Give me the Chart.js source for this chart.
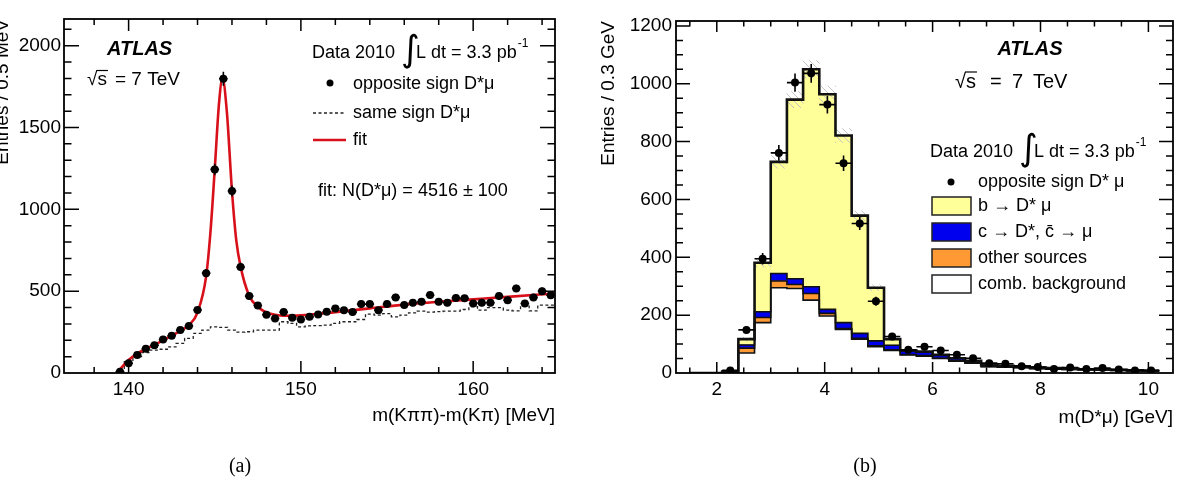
<!DOCTYPE html>
<html>
<head>
<meta charset="utf-8">
<script src="https://cdn.jsdelivr.net/npm/chart.js@4.4.1/dist/chart.umd.min.js"></script>
<style>
  html, body { margin: 0; padding: 0; background: #fff; }
  #wrap { position: relative; width: 1184px; height: 496px; }
  #wrap canvas { position: absolute; left: 0; top: 0; }
</style>
</head>
<body>
<div id="wrap">
  <canvas id="chartA" width="1184" height="496"></canvas>
  <canvas id="chartB" width="1184" height="496"></canvas>
</div>
<script>
// ---- panel (a): m(Kpipi)-m(Kpi), 0.5 MeV bins starting at 139.5 ----
const dmStart = 139.5;
const dmBin = 0.5;
const oppSign = [8, 60, 110, 148, 170, 205, 228, 262, 287, 385,
  610, 1244, 1798, 1112, 648, 470, 412, 356, 333, 372,
  338, 327, 343, 358, 374, 394, 384, 372, 421, 421,
  384, 421, 462, 415, 429, 435, 476, 435, 429, 459,
  456, 425, 429, 429, 470, 445, 517, 425, 462, 500, 475];
const sameSign = [10, 69, 100, 124, 140, 145, 160, 181, 212, 242,
  262, 282, 279, 262, 250, 252, 262, 262, 262, 313,
  303, 282, 288, 290, 293, 303, 313, 313, 327, 360,
  354, 363, 343, 354, 367, 378, 372, 375, 378, 378,
  388, 405, 384, 400, 400, 384, 380, 409, 380, 415, 415];
const fitX = [139.3, 139.6, 140, 140.5, 141, 141.5, 142, 142.5, 143, 143.5, 144, 144.5,
  144.75, 145, 145.25, 145.45, 145.7, 146, 146.25, 146.5, 147, 147.5, 148, 148.5, 149,
  150, 152, 154, 156, 158, 160, 162, 164.75];
const fitY = [0, 35, 80, 118, 148, 172, 200, 228, 258, 292, 370, 590,
  860, 1244, 1650, 1800, 1600, 1112, 810, 650, 472, 405, 370, 356, 350,
  352, 372, 395, 418, 435, 450, 465, 486];
const xLabelsA = [140, 150, 160];
const yLabelsA = [0, 500, 1000, 1500, 2000];

// ---- panel (b): m(D*mu), 0.3 GeV bins starting at 1.5 GeV ----
const mLow = 1.5;
const mBin = 0.3;
const combBkg = [0, 0, 4, 69, 174, 295, 292, 252, 197, 151, 117, 91, 78, 62, 58, 50, 41, 34, 22, 20, 18, 15, 14, 12, 11, 10, 9, 8, 7];
const otherSrc = [0, 0, 1, 17, 18, 23, 14, 23, 9, 3, 3, 3, 2, 2, 2, 1, 1, 1, 1, 1, 1, 1, 0, 0, 0, 0, 0, 0, 0];
const charmSrc = [0, 0, 0, 11, 20, 26, 20, 23, 14, 20, 17, 17, 16, 12, 12, 10, 8, 6, 4, 3, 3, 2, 2, 2, 1, 1, 1, 1, 1];
const beautySrc = [0, 0, 0, 20, 169, 386, 619, 752, 744, 647, 407, 184, 21, 2, 2, 2, 1, 1, 1, 1, 1, 1, 1, 1, 1, 1, 1, 0, 0];
const dataB = [null, null, 9, 149, 395, 761, 1004, 1036, 928, 725, 517, 248, 126, 80, 91, 78, 63, 51, 34, 32, 23, 21, 14, 19, 14, 17, 12, 9, 9];
const sysBand = [0, 0, 0, 6, 14, 22, 28, 30, 28, 24, 16, 10, 5, 3, 3, 2, 2, 1, 1, 1, 1, 1, 0, 0, 0, 0, 0, 0, 0];
const xLabelsB = [2, 4, 6, 8, 10];
const yLabelsB = [0, 200, 400, 600, 800, 1000, 1200];

const FONT = '"Liberation Sans", Arial, Helvetica, sans-serif';
Chart.defaults.font.family = FONT;
Chart.defaults.color = '#000';

function stepLine(lo, width, vals) {
  const pts = [];
  vals.forEach((v, i) => {
    pts.push({ x: lo + i * width, y: v }, { x: lo + (i + 1) * width, y: v });
  });
  return pts;
}

function near(v, list) {
  return list.some(l => Math.abs(l - v) < 1e-6);
}

function put(ctx, s, x, y, size, o = {}) {
  ctx.font = `${o.style || 'normal'} ${o.weight || 'normal'} ${size}px ${o.family || FONT}`;
  ctx.textAlign = o.align || 'left';
  ctx.textBaseline = o.base || 'middle';
  ctx.fillStyle = '#000';
  ctx.fillText(s, x, y);
  return ctx.measureText(s).width;
}

function sqrtS(ctx, x, y, size) {
  const w1 = put(ctx, '√', x, y, size);
  const w2 = put(ctx, 's', x + w1, y, size);
  ctx.strokeStyle = '#000';
  ctx.lineWidth = 1.2;
  ctx.beginPath();
  ctx.moveTo(x + w1 - 1, y - size * 0.5);
  ctx.lineTo(x + w1 + w2 + 1, y - size * 0.5);
  ctx.stroke();
}

function lumi(ctx, x, y) {
  let w = put(ctx, 'Data 2010', x, y, 18);
  const ix = x + w + 6;
  put(ctx, '∫', ix, y - 1, 36, { family: '"DejaVu Sans"' });
  w = put(ctx, 'L dt = 3.3 pb', ix + 15, y, 18);
  put(ctx, '-1', ix + 16 + w, y - 9, 12);
}

// ROOT style frame: box with inward ticks on all four sides
const rootFrame = {
  id: 'rootFrame',
  afterDraw(chart, args, o) {
    const { ctx, chartArea: a } = chart;
    const x = chart.scales.x, y = chart.scales.y;
    ctx.save();
    ctx.strokeStyle = '#000';
    ctx.lineWidth = 1.5;
    ctx.beginPath();
    x.ticks.forEach(t => {
      const px = x.getPixelForValue(t.value);
      if (px < a.left + 1 || px > a.right - 1) return;
      const len = Math.abs(t.value / o.majX - Math.round(t.value / o.majX)) < 1e-6 ? o.xMaj : o.xMin;
      ctx.moveTo(px, a.bottom); ctx.lineTo(px, a.bottom - len);
      ctx.moveTo(px, a.top); ctx.lineTo(px, a.top + len);
    });
    y.ticks.forEach(t => {
      const py = y.getPixelForValue(t.value);
      if (py < a.top + 1 || py > a.bottom - 1) return;
      const len = Math.abs(t.value / o.majY - Math.round(t.value / o.majY)) < 1e-6 ? o.yMaj : o.yMin;
      ctx.moveTo(a.left, py); ctx.lineTo(a.left + len, py);
      ctx.moveTo(a.right, py); ctx.lineTo(a.right - len, py);
    });
    ctx.stroke();
    ctx.lineWidth = 1.8;
    ctx.strokeRect(a.left, a.top, a.right - a.left, a.bottom - a.top);
    ctx.restore();
  }
};

// poisson error bars plus half-bin horizontal bars
const errorBars = {
  id: 'errorBars',
  beforeDatasetDraw(chart, args) {
    const ds = chart.data.datasets[args.index];
    if (!ds.errX) return;
    const { ctx } = chart;
    const xs = chart.scales.x, ys = chart.scales[ds.yAxisID || 'y'];
    ctx.save();
    ctx.strokeStyle = '#000';
    ctx.lineWidth = 1.6;
    ctx.beginPath();
    ds.data.forEach(p => {
      const e = Math.sqrt(p.y);
      const px = xs.getPixelForValue(p.x), py = ys.getPixelForValue(p.y);
      ctx.moveTo(xs.getPixelForValue(p.x - ds.errX), py);
      ctx.lineTo(xs.getPixelForValue(p.x + ds.errX), py);
      ctx.moveTo(px, ys.getPixelForValue(Math.max(p.y - e, 0)));
      ctx.lineTo(px, ys.getPixelForValue(p.y + e));
    });
    ctx.stroke();
    ctx.restore();
  }
};

const notesA = {
  id: 'notesA',
  afterDraw(chart) {
    const ctx = chart.ctx;
    ctx.save();
    put(ctx, 'ATLAS', 107, 49, 20, { style: 'italic', weight: 'bold' });
    sqrtS(ctx, 87, 80, 19);
    put(ctx, '= 7 TeV', 115, 80, 19);
    lumi(ctx, 312, 53);
    ctx.beginPath(); ctx.arc(330, 83, 3.5, 0, Math.PI * 2); ctx.fillStyle = '#000'; ctx.fill();
    put(ctx, 'opposite sign D*μ', 353, 84, 18);
    ctx.strokeStyle = '#222'; ctx.lineWidth = 1.3; ctx.setLineDash([3, 2.5]);
    ctx.beginPath(); ctx.moveTo(313, 113); ctx.lineTo(344, 113); ctx.stroke();
    ctx.setLineDash([]);
    put(ctx, 'same sign D*μ', 353, 113, 18);
    ctx.strokeStyle = '#d8101a'; ctx.lineWidth = 2.5;
    ctx.beginPath(); ctx.moveTo(313, 140); ctx.lineTo(346, 140); ctx.stroke();
    put(ctx, 'fit', 353, 140, 18);
    put(ctx, 'fit: N(D*μ) = 4516 ± 100', 318, 191, 18);
    put(ctx, 'm(Kππ)-m(Kπ) [MeV]', 555, 416, 19, { align: 'right' });
    ctx.translate(8, 19); ctx.rotate(-Math.PI / 2);
    put(ctx, 'Entries / 0.5 MeV', 0, 0, 19, { align: 'right', base: 'alphabetic' });
    ctx.setTransform(1, 0, 0, 1, 0, 0);
    put(ctx, '(a)', 240, 467, 20, { align: 'center', family: '"Liberation Serif", serif' });
    ctx.restore();
  }
};

const notesB = {
  id: 'notesB',
  afterDraw(chart) {
    const ctx = chart.ctx;
    ctx.save();
    put(ctx, 'ATLAS', 1030, 49, 20, { style: 'italic', weight: 'bold', align: 'center' });
    sqrtS(ctx, 955, 82, 20);
    put(ctx, '=', 990, 82, 20);
    put(ctx, '7', 1012, 82, 20);
    put(ctx, 'TeV', 1033, 82, 20);
    lumi(ctx, 930, 152);
    ctx.beginPath(); ctx.arc(951, 182, 3.5, 0, Math.PI * 2); ctx.fillStyle = '#000'; ctx.fill();
    put(ctx, 'opposite sign D* μ', 978, 182, 18);
    const boxes = [['#ffff99', 'b → D* μ'], ['#0000ee', 'c → D*, c̄ → μ'], ['#ff9933', 'other sources'], ['#ffffff', 'comb. background']];
    boxes.forEach(([c, s], i) => {
      const cy = 206 + i * 26;
      ctx.fillStyle = c; ctx.fillRect(932, cy - 9, 39, 18);
      ctx.strokeStyle = '#222'; ctx.lineWidth = 1.5; ctx.strokeRect(932, cy - 9, 39, 18);
      put(ctx, s, 978, cy, 18);
    });
    put(ctx, 'm(D*μ) [GeV]', 1173, 418, 19, { align: 'right' });
    ctx.translate(614, 21); ctx.rotate(-Math.PI / 2);
    put(ctx, 'Entries / 0.3 GeV', 0, 0, 19, { align: 'right', base: 'alphabetic' });
    ctx.setTransform(1, 0, 0, 1, 0, 0);
    put(ctx, '(b)', 865, 467, 20, { align: 'center', family: '"Liberation Serif", serif' });
    ctx.restore();
  }
};

// ---------------- chart (a) ----------------
new Chart(document.getElementById('chartA'), {
  type: 'line',
  data: {
    datasets: [
      {
        label: 'opposite sign D*μ',
        data: oppSign.map((v, i) => ({ x: dmStart + i * dmBin, y: v })),
        showLine: false, pointRadius: 4, pointBackgroundColor: '#000', pointBorderWidth: 0,
        errX: dmBin / 2, order: 0
      },
      {
        label: 'fit',
        data: fitX.map((x, i) => ({ x, y: fitY[i] })),
        borderColor: '#d8101a', borderWidth: 2.6, pointRadius: 0,
        cubicInterpolationMode: 'monotone', order: 1
      },
      {
        label: 'same sign D*μ',
        data: stepLine(dmStart - dmBin / 2, dmBin, sameSign),
        borderColor: '#222', borderWidth: 1.3, borderDash: [3, 2.5], pointRadius: 0, order: 2
      }
    ]
  },
  options: {
    responsive: false, animation: false,
    layout: { padding: { left: 0, top: 19, right: 629, bottom: 0 } },
    plugins: { legend: { display: false }, tooltip: { enabled: false },
      rootFrame: { majX: 10, majY: 500, xMaj: 12, xMin: 6, yMaj: 15, yMin: 7.5 } },
    scales: {
      x: {
        type: 'linear', min: 136.25, max: 164.75,
        afterFit: s => { s.height = 123; },
        grid: { display: false, drawTicks: false }, border: { display: false },
        ticks: { stepSize: 2, includeBounds: false, autoSkip: false, maxRotation: 0, padding: 5,
          font: { size: 19 }, callback: v => near(v, xLabelsA) ? String(v) : '' }
      },
      y: {
        min: 0, max: 2163,
        afterFit: s => { s.width = 64; },
        grid: { display: false, drawTicks: false }, border: { display: false },
        ticks: { stepSize: 100, includeBounds: false, autoSkip: false, padding: 3,
          font: { size: 19 }, callback: v => near(v, yLabelsA) ? String(v) : '' }
      }
    }
  },
  plugins: [errorBars, rootFrame, notesA]
});

// ---------------- chart (b) ----------------
const centres = combBkg.map((_, i) => mLow + (i + 0.5) * mBin);
const cum1 = combBkg;
const cum2 = cum1.map((v, i) => v + otherSrc[i]);
const cum3 = cum2.map((v, i) => v + charmSrc[i]);
const total = cum3.map((v, i) => v + beautySrc[i]);

const patCanvas = document.createElement('canvas');
patCanvas.width = 7; patCanvas.height = 7;
const pctx = patCanvas.getContext('2d');
pctx.strokeStyle = '#c4c4c4'; pctx.lineWidth = 1;
pctx.beginPath(); pctx.moveTo(0, 0); pctx.lineTo(7, 7); pctx.moveTo(-1, 6); pctx.lineTo(1, 8); pctx.moveTo(6, -1); pctx.lineTo(8, 1); pctx.stroke();
const hatch = document.getElementById('chartB').getContext('2d').createPattern(patCanvas, 'repeat');

const barSet = (label, vals, color, order) => ({
  type: 'bar', label, order,
  data: vals.map((v, i) => ({ x: centres[i], y: v })),
  backgroundColor: color, borderWidth: 0,
  categoryPercentage: 1, barPercentage: 1
});
const outline = (vals, w, order) => ({
  type: 'line', yAxisID: 'yd', order,
  data: stepLine(mLow, mBin, vals),
  borderColor: '#111', borderWidth: w, pointRadius: 0
});

new Chart(document.getElementById('chartB'), {
  type: 'bar',
  data: {
    datasets: [
      barSet('comb. background', combBkg, '#ffffff', 10),
      barSet('other sources', otherSrc, '#ff9933', 11),
      barSet('c → D*, c̄ → μ', charmSrc, '#0000ee', 12),
      barSet('b → D* μ', beautySrc, '#ffff99', 13),
      {
        type: 'bar', label: 'uncertainty', yAxisID: 'yd', order: 5, grouped: false,
        data: total.map((v, i) => ({ x: centres[i], y: [v - sysBand[i], v + sysBand[i]] })),
        backgroundColor: hatch, borderWidth: 0, categoryPercentage: 1, barPercentage: 1
      },
      outline(cum1, 1.6, 4),
      outline(cum2, 1.6, 3),
      outline(cum3, 1.6, 2),
      outline(total, 2.6, 1),
      {
        type: 'line', label: 'opposite sign D* μ', yAxisID: 'yd', order: 0,
        data: dataB.map((v, i) => ({ x: centres[i], y: v })).filter(p => p.y !== null),
        showLine: false, pointRadius: 4, pointBackgroundColor: '#000', pointBorderWidth: 0,
        errX: mBin / 2
      }
    ]
  },
  options: {
    responsive: false, animation: false,
    layout: { padding: { left: 592, top: 21, right: 11, bottom: 0 } },
    plugins: { legend: { display: false }, tooltip: { enabled: false },
      rootFrame: { majX: 2, majY: 200, xMaj: 11, xMin: 5.5, yMaj: 14, yMin: 7 } },
    scales: {
      x: {
        type: 'linear', min: 1.5, max: 10.2, stacked: true,
        afterFit: s => { s.height = 123; },
        grid: { display: false, drawTicks: false }, border: { display: false },
        ticks: { stepSize: 0.5, includeBounds: false, autoSkip: false, maxRotation: 0, padding: 5,
          font: { size: 19 }, callback: v => near(v, xLabelsB) ? String(v) : '' }
      },
      y: {
        min: 0, max: 1217, stacked: true,
        afterFit: s => { s.width = 84; },
        grid: { display: false, drawTicks: false }, border: { display: false },
        ticks: { stepSize: 50, includeBounds: false, autoSkip: false, padding: 4,
          font: { size: 19 }, callback: v => near(v, yLabelsB) ? String(v) : '' }
      },
      yd: { min: 0, max: 1217, display: false }
    }
  },
  plugins: [errorBars, rootFrame, notesB]
});
</script>
</body>
</html>
